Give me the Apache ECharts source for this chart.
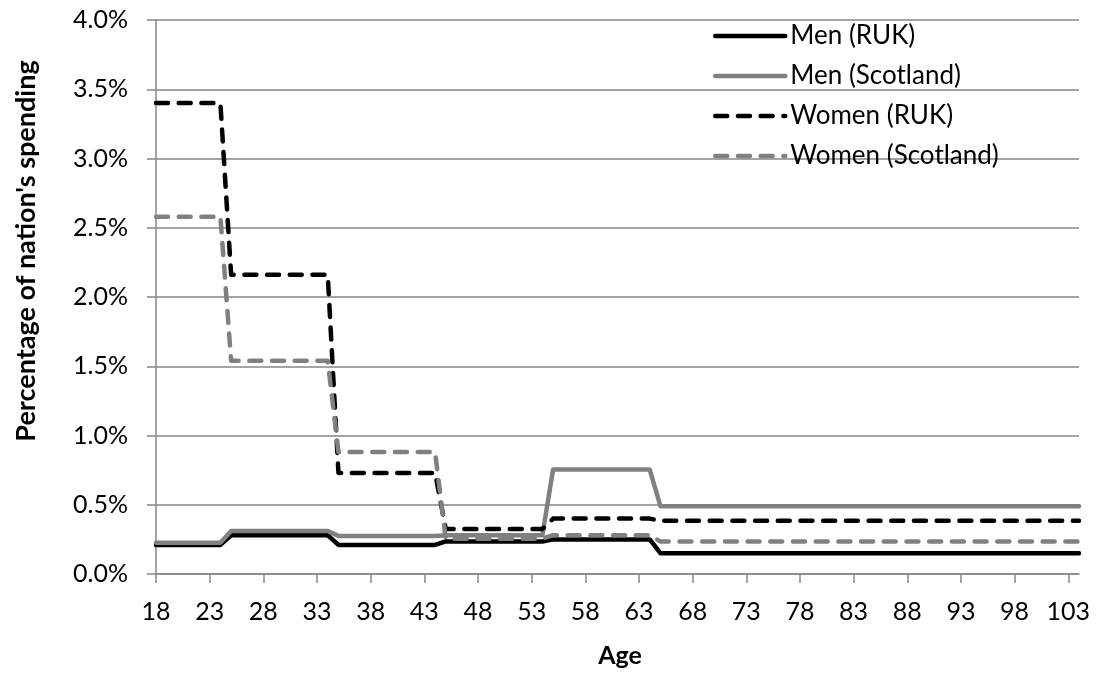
<!DOCTYPE html>
<html>
<head>
<meta charset="utf-8">
<script src="https://cdn.jsdelivr.net/npm/echarts@6/dist/echarts.min.js"></script>
<style>html,body{margin:0;padding:0;background:#fff}#c{width:1098px;height:675px}</style>
</head>
<body>
<div id="c"></div>
<script>
const ages = ['18','19','20','21','22','23','24','25','26','27','28','29','30','31','32','33','34','35','36','37','38','39','40','41','42','43','44','45','46','47','48','49','50','51','52','53','54','55','56','57','58','59','60','61','62','63','64','65','66','67','68','69','70','71','72','73','74','75','76','77','78','79','80','81','82','83','84','85','86','87','88','89','90','91','92','93','94','95','96','97','98','99','100','101','102','103','104'];

// values in percent of nation's spending, one per age 18..104
const menRUK = [
0.21,0.21,0.21,0.21,0.21,0.21,0.21,
0.28,0.28,0.28,0.28,0.28,0.28,0.28,0.28,0.28,0.28,
0.21,0.21,0.21,0.21,0.21,0.21,0.21,0.21,0.21,0.21,
0.235,0.235,0.235,0.235,0.235,0.235,0.235,0.235,0.235,0.235,
0.25,0.25,0.25,0.25,0.25,0.25,0.25,0.25,0.25,0.25,
0.15,0.15,0.15,0.15,0.15,0.15,0.15,0.15,0.15,0.15,0.15,0.15,0.15,0.15,0.15,0.15,0.15,0.15,0.15,0.15,
0.15,0.15,0.15,0.15,0.15,0.15,0.15,0.15,0.15,0.15,0.15,0.15,0.15,0.15,0.15,0.15,0.15,0.15,0.15,0.15];
const menScotland = [
0.225,0.225,0.225,0.225,0.225,0.225,0.225,
0.31,0.31,0.31,0.31,0.31,0.31,0.31,0.31,0.31,0.31,
0.275,0.275,0.275,0.275,0.275,0.275,0.275,0.275,0.275,0.275,
0.28,0.28,0.28,0.28,0.28,0.28,0.28,0.28,0.28,0.28,
0.755,0.755,0.755,0.755,0.755,0.755,0.755,0.755,0.755,0.755,
0.49,0.49,0.49,0.49,0.49,0.49,0.49,0.49,0.49,0.49,0.49,0.49,0.49,0.49,0.49,0.49,0.49,0.49,0.49,0.49,
0.49,0.49,0.49,0.49,0.49,0.49,0.49,0.49,0.49,0.49,0.49,0.49,0.49,0.49,0.49,0.49,0.49,0.49,0.49,0.49];
const womenRUK = [
3.40,3.40,3.40,3.40,3.40,3.40,3.40,
2.16,2.16,2.16,2.16,2.16,2.16,2.16,2.16,2.16,2.16,
0.73,0.73,0.73,0.73,0.73,0.73,0.73,0.73,0.73,0.73,
0.325,0.325,0.325,0.325,0.325,0.325,0.325,0.325,0.325,0.325,
0.40,0.40,0.40,0.40,0.40,0.40,0.40,0.40,0.40,0.40,
0.385,0.385,0.385,0.385,0.385,0.385,0.385,0.385,0.385,0.385,0.385,0.385,0.385,0.385,0.385,0.385,0.385,0.385,0.385,0.385,
0.385,0.385,0.385,0.385,0.385,0.385,0.385,0.385,0.385,0.385,0.385,0.385,0.385,0.385,0.385,0.385,0.385,0.385,0.385,0.385];
const womenScotland = [
2.58,2.58,2.58,2.58,2.58,2.58,2.58,
1.54,1.54,1.54,1.54,1.54,1.54,1.54,1.54,1.54,1.54,
0.88,0.88,0.88,0.88,0.88,0.88,0.88,0.88,0.88,0.88,
0.255,0.255,0.255,0.255,0.255,0.255,0.255,0.255,0.255,0.255,
0.28,0.28,0.28,0.28,0.28,0.28,0.28,0.28,0.28,0.28,
0.235,0.235,0.235,0.235,0.235,0.235,0.235,0.235,0.235,0.235,0.235,0.235,0.235,0.235,0.235,0.235,0.235,0.235,0.235,0.235,
0.235,0.235,0.235,0.235,0.235,0.235,0.235,0.235,0.235,0.235,0.235,0.235,0.235,0.235,0.235,0.235,0.235,0.235,0.235,0.235];

const seriesNames = ['Men (RUK)','Men (Scotland)','Women (RUK)','Women (Scotland)'];
const yTicks = [0, 4, 0.5]; // min, max, interval (percent)
const xTitle = 'Age';
const yTitle = "Percentage of nation's spending";

const FONT = 'Lato, "Open Sans", sans-serif';
const grey = '#868686';
const dash = [12, 10.7];

function mkSeries(name, data, color, dashed) {
  return {
    name: name, type: 'line', data: data, showSymbol: false, symbol: 'none',
    animation: false,
    lineStyle: { color: color, width: 4.5, type: dashed ? dash : 'solid', cap: 'round', join: 'round' },
    itemStyle: { color: color }
  };
}

const chart = echarts.init(document.getElementById('c'), null, { renderer: 'canvas' });
chart.setOption({
  animation: false,
  backgroundColor: '#ffffff',
  grid: { left: 156, right: 19, top: 20, bottom: 101, containLabel: false },
  legend: {
    orient: 'vertical', left: 713, top: 22, padding: 0,
    itemWidth: 70, itemHeight: 14, itemGap: 12,
    itemStyle: { opacity: 0 },
    lineStyle: { width: 4.5, cap: 'round' },
    textStyle: { fontFamily: FONT, fontSize: 26, color: '#000', lineHeight: 28 },
    data: seriesNames
  },
  xAxis: {
    type: 'category', data: ages, boundaryGap: false,
    axisLine: { lineStyle: { color: grey, width: 1.5 } },
    axisTick: { show: true, interval: 4, length: 9, lineStyle: { color: grey, width: 1.5 } },
    axisLabel: { interval: 4, margin: 25, fontFamily: FONT, fontSize: 25, color: '#000' },
    splitLine: { show: false }
  },
  yAxis: {
    type: 'value', min: yTicks[0], max: yTicks[1], interval: yTicks[2],
    axisLine: { show: true, lineStyle: { color: grey, width: 1.5 } },
    axisTick: { show: true, length: 9, lineStyle: { color: grey, width: 1.5 } },
    axisLabel: { margin: 28, fontFamily: FONT, fontSize: 25, color: '#000',
      formatter: function (v) { return v.toFixed(1) + '%'; } },
    splitLine: { show: true, lineStyle: { color: grey, width: 1.5 } }
  },
  graphic: [{
    type: 'text', x: 26, y: 251, rotation: Math.PI / 2,
    style: { text: yTitle, fontFamily: FONT, fontSize: 27, fontWeight: 'bold',
      fill: '#000', align: 'center', verticalAlign: 'middle' }
  }, {
    type: 'text', x: 620, y: 656,
    style: { text: xTitle, fontFamily: FONT, fontSize: 25, fontWeight: 'bold',
      fill: '#000', align: 'center', verticalAlign: 'middle' }
  }],
  series: [
    mkSeries(seriesNames[0], menRUK, '#000000', false),
    mkSeries(seriesNames[1], menScotland, '#808080', false),
    mkSeries(seriesNames[2], womenRUK, '#000000', true),
    mkSeries(seriesNames[3], womenScotland, '#808080', true)
  ]
});
</script>
</body>
</html>
